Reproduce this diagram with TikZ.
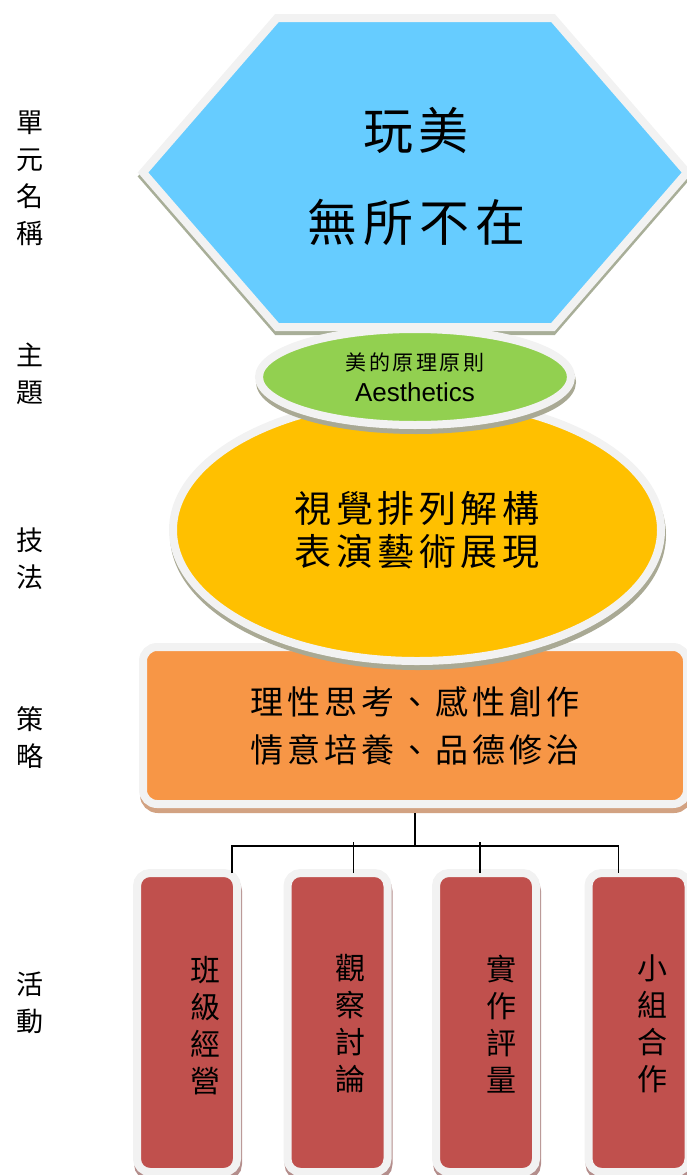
\documentclass[tikz,border=0pt]{standalone}
\usepackage{fontspec}
\setmainfont{Liberation Sans}
\newfontfamily\cjk{Noto Sans CJK TC}
\newfontfamily\cjkwide[LetterSpace=12]{Noto Sans CJK TC}
\usetikzlibrary{shapes.geometric,shadows,positioning}
\definecolor{rimgray}{HTML}{F2F2F2}
\definecolor{unitblue}{HTML}{66CCFF}
\definecolor{themegreen}{HTML}{92D050}
\definecolor{techyellow}{HTML}{FFC000}
\definecolor{stratorange}{HTML}{F79646}
\definecolor{actred}{HTML}{C0504D}
\tikzset{
  rim/.style={draw=rimgray,line width=8pt,outer sep=0pt,inner sep=0pt},
  shade/.style={drop shadow={shadow xshift=1pt,shadow yshift=-5pt,opacity=1,fill=#1,draw=#1,line width=8pt}},
  sidelbl/.style={font=\cjk\fontsize{27}{37}\selectfont,align=center},
  actbox/.style={rim,shade=actshadow,fill=actred,rounded corners=13pt,minimum width=100pt,minimum height=299pt},
  acttext/.style={font=\cjk\fontsize{30}{37}\selectfont,align=center},
  conn/.style={line width=1.6pt,black}
}
\definecolor{actshadow}{HTML}{B48E8C}
\definecolor{hexshadow}{HTML}{A8AE98}
\definecolor{ovalshadow}{HTML}{A9A994}
\definecolor{rectshadow}{HTML}{D2A282}
\begin{document}
\begin{tikzpicture}[x=1pt,y=-1pt]
\useasboundingbox (0,0) rectangle (687,1175);
\def\hexpath{(277,18) -- (553,18) -- (687,172.5) -- (553,327) -- (277,327) -- (143,172.5) -- cycle}
% unit name
\draw[hexshadow,line width=8pt,fill=hexshadow,shift={(0,4)}] \hexpath;
\draw[rim,fill=unitblue] \hexpath;
\node[font=\cjkwide\fontsize{50}{92}\selectfont,align=center] (unit) at (416,176) {玩美\\無所不在};
% strategy, technique, theme
\node[rim,shade=rectshadow,fill=stratorange,rounded corners=14pt,minimum width=544pt,minimum height=157pt,
  font=\cjkwide\fontsize{33}{48}\selectfont,align=center] (strat) at (415,725.5) {理性思考、感性創作\\情意培養、品德修治};
\node[ellipse,rim,shade=ovalshadow,fill=techyellow,minimum width=488pt,minimum height=262pt,
  font=\cjkwide\fontsize{37}{43}\selectfont,align=center] (tech) at (417,530) {視覺排列解構\\表演藝術展現};
\node[ellipse,rim,shade=ovalshadow,fill=themegreen,minimum width=312pt,minimum height=96pt,align=center,
  font=\fontsize{26}{31}\selectfont] (theme) at (415,377)
  {{\cjkwide\fontsize{21}{31}\selectfont 美的原理原則}\\Aesthetics};
% activities
\node[actbox] (act1) at (187,1022.5) {};
\node[actbox] (act2) at (337.5,1022.5) {};
\node[actbox] (act3) at (486,1022.5) {};
\node[actbox] (act4) at (638.5,1022.5) {};
\node[acttext] (t1) at ([xshift=18pt,yshift=-3pt]act1.center) {班\\級\\經\\營};
\node[acttext] (t2) at ([xshift=13pt,yshift=-1pt]act2.center) {觀\\察\\討\\論};
\node[acttext] (t3) at ([xshift=15pt,yshift=-2pt]act3.center) {實\\作\\評\\量};
\node[acttext] (t4) at ([xshift=14pt,yshift=-1pt]act4.center) {小\\組\\合\\作};
% connectors
\coordinate (bus) at (415,846);
\draw[conn] ([yshift=-9pt]strat.south) -- (bus);
\draw[conn] ([xshift=-5pt]act1.north east) |- (bus) -| ([xshift=-20pt]act4.north);
\draw[conn] ([xshift=16pt]act2.north) -- ++(0,-31);
\draw[conn] ([xshift=-6pt]act3.north) -- ++(0,-31);
% side labels
\node[sidelbl] (lunit) at (30,178) {單\\元\\名\\稱};
\node[sidelbl] (ltheme) at (30,374) {主\\題};
\node[sidelbl] (ltech) at (30,559) {技\\法};
\node[sidelbl] (lstrat) at (30,738) {策\\略};
\node[sidelbl] (lact) at (30,1003) {活\\動};
\end{tikzpicture}
\end{document}
